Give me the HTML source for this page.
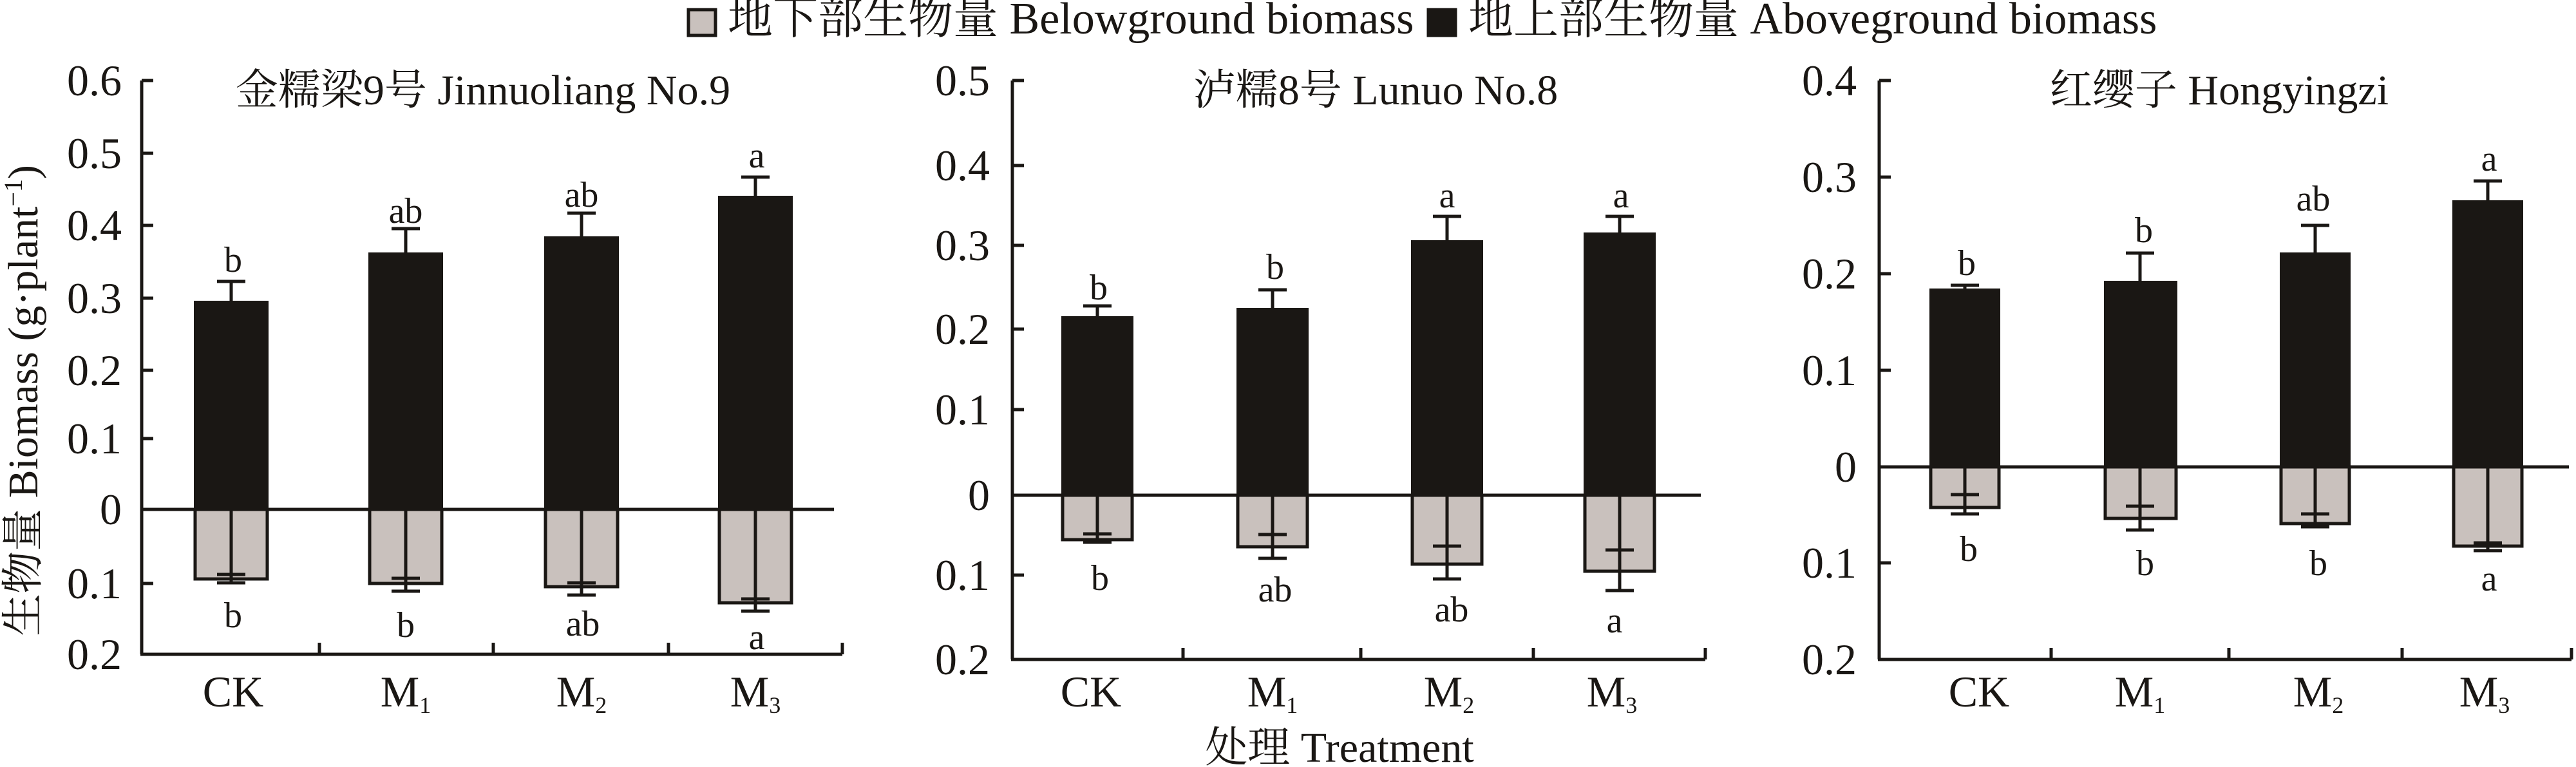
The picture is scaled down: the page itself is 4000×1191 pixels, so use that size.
<!DOCTYPE html>
<html><head><meta charset="utf-8"><style>
html,body{margin:0;padding:0;background:#fff;}
svg{display:block;}
text{font-family:"Liberation Serif","Noto Serif CJK SC","Noto Sans CJK SC",serif;fill:#1a1714;}
</style></head><body>
<svg width="4000" height="1191" viewBox="0 0 4000 1191" xmlns="http://www.w3.org/2000/svg">
<g stroke="#1a1714" stroke-width="5" fill="none">
<rect x="1069" y="15" width="42" height="40" fill="#c9c1bd"/>
<rect x="2218" y="15" width="42" height="40" fill="#1a1714"/>
</g>
<text x="1130" y="52" font-size="70">地下部生物量 Belowground biomass</text>
<text x="2280" y="52" font-size="70">地上部生物量 Aboveground biomass</text>

<text transform="translate(58,622) rotate(-90)" text-anchor="middle" font-size="66">生物量 Biomass (g·plant<tspan dy="-24" font-size="40">−1</tspan><tspan dy="24">)</tspan></text>
<text x="2080" y="1183" text-anchor="middle" font-size="66">处理 Treatment</text>

<!-- PANEL 1 -->
<g stroke="#1a1714" stroke-width="5">
<line x1="220" y1="125" x2="220" y2="1016"/>
<line x1="218" y1="1016" x2="1308" y2="1016"/>
<line x1="220" y1="125" x2="238" y2="125"/><line x1="220" y1="238" x2="238" y2="238"/><line x1="220" y1="350" x2="238" y2="350"/><line x1="220" y1="463" x2="238" y2="463"/><line x1="220" y1="575" x2="238" y2="575"/><line x1="220" y1="681" x2="238" y2="681"/><line x1="220" y1="906" x2="238" y2="906"/>
<line x1="496" y1="1016" x2="496" y2="998"/><line x1="766" y1="1016" x2="766" y2="998"/><line x1="1038" y1="1016" x2="1038" y2="998"/><line x1="1308" y1="1016" x2="1308" y2="998"/>
</g>
<g fill="#1a1714"><rect x="301" y="467" width="116" height="324"/><rect x="572" y="392" width="116" height="399"/><rect x="845" y="367" width="116" height="424"/><rect x="1115" y="304" width="116" height="487"/></g>
<g fill="#c9c1bd" stroke="#1a1714" stroke-width="5"><rect x="303" y="791" width="112" height="108"/><rect x="574" y="791" width="112" height="115"/><rect x="847" y="791" width="112" height="120"/><rect x="1117" y="791" width="112" height="145"/></g>
<line x1="220" y1="791" x2="1295" y2="791" stroke="#1a1714" stroke-width="5"/>
<g stroke="#1a1714" stroke-width="5">
<line x1="359" y1="467" x2="359" y2="437"/><line x1="337" y1="437" x2="381" y2="437"/>
<line x1="630" y1="392" x2="630" y2="355"/><line x1="608" y1="355" x2="652" y2="355"/>
<line x1="903" y1="367" x2="903" y2="331"/><line x1="881" y1="331" x2="925" y2="331"/>
<line x1="1173" y1="304" x2="1173" y2="275"/><line x1="1151" y1="275" x2="1195" y2="275"/>
<line x1="359" y1="791" x2="359" y2="905"/><line x1="337" y1="892" x2="381" y2="892"/><line x1="337" y1="905" x2="381" y2="905"/>
<line x1="630" y1="791" x2="630" y2="918"/><line x1="608" y1="898" x2="652" y2="898"/><line x1="608" y1="918" x2="652" y2="918"/>
<line x1="903" y1="791" x2="903" y2="924"/><line x1="881" y1="905" x2="925" y2="905"/><line x1="881" y1="924" x2="925" y2="924"/>
<line x1="1173" y1="791" x2="1173" y2="949"/><line x1="1151" y1="930" x2="1195" y2="930"/><line x1="1151" y1="949" x2="1195" y2="949"/>
</g>
<g font-size="68" text-anchor="end">
<text x="189" y="148">0.6</text><text x="189" y="261">0.5</text><text x="189" y="373">0.4</text><text x="189" y="486">0.3</text><text x="189" y="598">0.2</text><text x="189" y="704">0.1</text><text x="189" y="814">0</text><text x="189" y="929">0.1</text><text x="189" y="1039">0.2</text>
</g>
<text x="750" y="162" text-anchor="middle" font-size="66">金糯梁9号 Jinnuoliang No.9</text>
<g font-size="56" text-anchor="middle">
<text x="362" y="422">b</text><text x="630" y="346">ab</text><text x="903" y="321">ab</text><text x="1175" y="260">a</text>
<text x="362" y="974">b</text><text x="630" y="989">b</text><text x="905" y="987">ab</text><text x="1175" y="1008">a</text>
</g>
<g font-size="68" text-anchor="middle">
<text x="362" y="1097">CK</text><text x="630" y="1097">M<tspan font-size="36" dy="10">1</tspan></text><text x="903" y="1097">M<tspan font-size="36" dy="10">2</tspan></text><text x="1173" y="1097">M<tspan font-size="36" dy="10">3</tspan></text>
</g>

<!-- PANEL 2 -->
<g stroke="#1a1714" stroke-width="5">
<line x1="1572" y1="125" x2="1572" y2="1024"/>
<line x1="1570" y1="1024" x2="2648" y2="1024"/>
<line x1="1572" y1="125" x2="1590" y2="125"/><line x1="1572" y1="257" x2="1590" y2="257"/><line x1="1572" y1="381" x2="1590" y2="381"/><line x1="1572" y1="511" x2="1590" y2="511"/><line x1="1572" y1="636" x2="1590" y2="636"/><line x1="1572" y1="893" x2="1590" y2="893"/>
<line x1="1837" y1="1024" x2="1837" y2="1006"/><line x1="2113" y1="1024" x2="2113" y2="1006"/><line x1="2381" y1="1024" x2="2381" y2="1006"/><line x1="2648" y1="1024" x2="2648" y2="1006"/>
</g>
<g fill="#1a1714"><rect x="1648" y="491" width="112" height="278"/><rect x="1920" y="478" width="112" height="291"/><rect x="2191" y="373" width="112" height="396"/><rect x="2459" y="361" width="112" height="408"/></g>
<g fill="#c9c1bd" stroke="#1a1714" stroke-width="5"><rect x="1650" y="769" width="108" height="69"/><rect x="1922" y="769" width="108" height="80"/><rect x="2193" y="769" width="108" height="107"/><rect x="2461" y="769" width="108" height="118"/></g>
<line x1="1572" y1="769" x2="2641" y2="769" stroke="#1a1714" stroke-width="5"/>
<g stroke="#1a1714" stroke-width="5">
<line x1="1704" y1="491" x2="1704" y2="475"/><line x1="1682" y1="475" x2="1726" y2="475"/>
<line x1="1976" y1="478" x2="1976" y2="450"/><line x1="1954" y1="450" x2="1998" y2="450"/>
<line x1="2247" y1="373" x2="2247" y2="336"/><line x1="2225" y1="336" x2="2269" y2="336"/>
<line x1="2515" y1="361" x2="2515" y2="336"/><line x1="2493" y1="336" x2="2537" y2="336"/>
<line x1="1704" y1="769" x2="1704" y2="842"/><line x1="1682" y1="829" x2="1726" y2="829"/><line x1="1682" y1="842" x2="1726" y2="842"/>
<line x1="1976" y1="769" x2="1976" y2="867"/><line x1="1954" y1="830" x2="1998" y2="830"/><line x1="1954" y1="867" x2="1998" y2="867"/>
<line x1="2247" y1="769" x2="2247" y2="899"/><line x1="2225" y1="848" x2="2269" y2="848"/><line x1="2225" y1="899" x2="2269" y2="899"/>
<line x1="2515" y1="769" x2="2515" y2="917"/><line x1="2493" y1="854" x2="2537" y2="854"/><line x1="2493" y1="917" x2="2537" y2="917"/>
</g>
<g font-size="68" text-anchor="end">
<text x="1537" y="148">0.5</text><text x="1537" y="280">0.4</text><text x="1537" y="404">0.3</text><text x="1537" y="534">0.2</text><text x="1537" y="659">0.1</text><text x="1537" y="792">0</text><text x="1537" y="916">0.1</text><text x="1537" y="1047">0.2</text>
</g>
<text x="2136" y="162" text-anchor="middle" font-size="66">泸糯8号 Lunuo No.8</text>
<g font-size="56" text-anchor="middle">
<text x="1706" y="465">b</text><text x="1980" y="433">b</text><text x="2247" y="322">a</text><text x="2517" y="322">a</text>
<text x="1708" y="916">b</text><text x="1980" y="934">ab</text><text x="2254" y="965">ab</text><text x="2507" y="982">a</text>
</g>
<g font-size="68" text-anchor="middle">
<text x="1694" y="1097">CK</text><text x="1976" y="1097">M<tspan font-size="36" dy="10">1</tspan></text><text x="2250" y="1097">M<tspan font-size="36" dy="10">2</tspan></text><text x="2503" y="1097">M<tspan font-size="36" dy="10">3</tspan></text>
</g>

<!-- PANEL 3 -->
<g stroke="#1a1714" stroke-width="5">
<line x1="2918" y1="125" x2="2918" y2="1024"/>
<line x1="2916" y1="1024" x2="3993" y2="1024"/>
<line x1="2918" y1="125" x2="2936" y2="125"/><line x1="2918" y1="275" x2="2936" y2="275"/><line x1="2918" y1="425" x2="2936" y2="425"/><line x1="2918" y1="575" x2="2936" y2="575"/><line x1="2918" y1="874" x2="2936" y2="874"/>
<line x1="3185" y1="1024" x2="3185" y2="1006"/><line x1="3461" y1="1024" x2="3461" y2="1006"/><line x1="3730" y1="1024" x2="3730" y2="1006"/><line x1="3993" y1="1024" x2="3993" y2="1006"/>
</g>
<g fill="#1a1714"><rect x="2996" y="448" width="110" height="277"/><rect x="3267" y="436" width="114" height="289"/><rect x="3540" y="392" width="110" height="333"/><rect x="3808" y="311" width="110" height="414"/></g>
<g fill="#c9c1bd" stroke="#1a1714" stroke-width="5"><rect x="2998" y="725" width="106" height="63"/><rect x="3269" y="725" width="110" height="80"/><rect x="3542" y="725" width="106" height="88"/><rect x="3810" y="725" width="106" height="123"/></g>
<line x1="2918" y1="725" x2="3989" y2="725" stroke="#1a1714" stroke-width="5"/>
<g stroke="#1a1714" stroke-width="5">
<line x1="3051" y1="448" x2="3051" y2="443"/><line x1="3029" y1="443" x2="3073" y2="443"/>
<line x1="3323" y1="436" x2="3323" y2="393"/><line x1="3301" y1="393" x2="3345" y2="393"/>
<line x1="3595" y1="392" x2="3595" y2="350"/><line x1="3573" y1="350" x2="3617" y2="350"/>
<line x1="3863" y1="311" x2="3863" y2="281"/><line x1="3841" y1="281" x2="3885" y2="281"/>
<line x1="3051" y1="725" x2="3051" y2="798"/><line x1="3029" y1="768" x2="3073" y2="768"/><line x1="3029" y1="798" x2="3073" y2="798"/>
<line x1="3323" y1="725" x2="3323" y2="823"/><line x1="3301" y1="786" x2="3345" y2="786"/><line x1="3301" y1="823" x2="3345" y2="823"/>
<line x1="3595" y1="725" x2="3595" y2="818"/><line x1="3573" y1="798" x2="3617" y2="798"/><line x1="3573" y1="818" x2="3617" y2="818"/>
<line x1="3863" y1="725" x2="3863" y2="855"/><line x1="3841" y1="843" x2="3885" y2="843"/><line x1="3841" y1="855" x2="3885" y2="855"/>
</g>
<g font-size="68" text-anchor="end">
<text x="2883" y="148">0.4</text><text x="2883" y="298">0.3</text><text x="2883" y="448">0.2</text><text x="2883" y="598">0.1</text><text x="2883" y="748">0</text><text x="2883" y="897">0.1</text><text x="2883" y="1047">0.2</text>
</g>
<text x="3446" y="162" text-anchor="middle" font-size="66">红缨子 Hongyingzi</text>
<g font-size="56" text-anchor="middle">
<text x="3054" y="427">b</text><text x="3329" y="376">b</text><text x="3592" y="327">ab</text><text x="3865" y="265">a</text>
<text x="3057" y="871">b</text><text x="3331" y="893">b</text><text x="3600" y="893">b</text><text x="3865" y="917">a</text>
</g>
<g font-size="68" text-anchor="middle">
<text x="3073" y="1097">CK</text><text x="3323" y="1097">M<tspan font-size="36" dy="10">1</tspan></text><text x="3600" y="1097">M<tspan font-size="36" dy="10">2</tspan></text><text x="3858" y="1097">M<tspan font-size="36" dy="10">3</tspan></text>
</g>
</svg>
</body></html>
